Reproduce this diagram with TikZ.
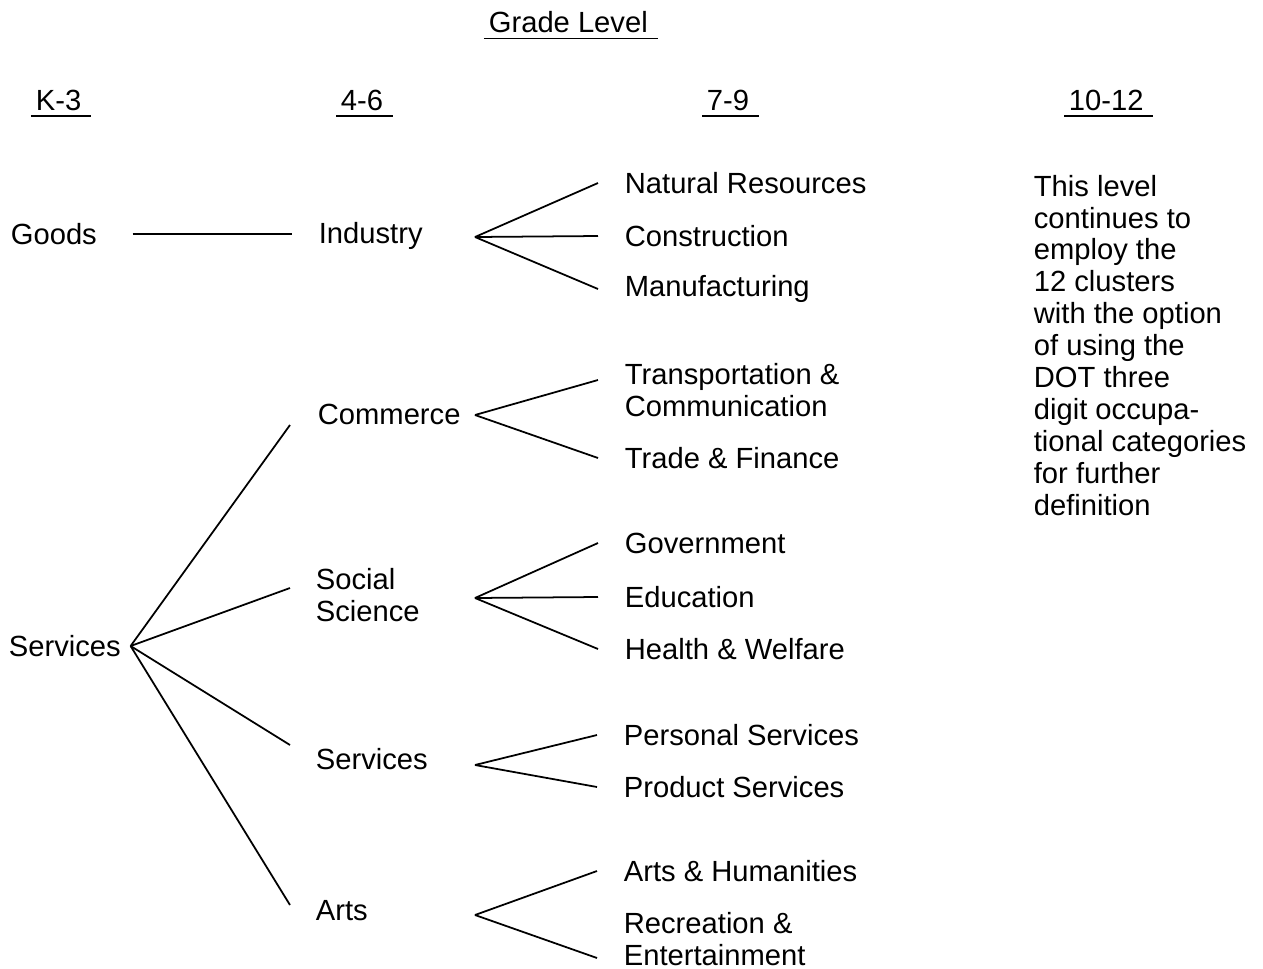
\documentclass[tikz,border=0pt]{standalone}
\usepackage{fontspec}
\setmainfont{Liberation Sans}
\begin{document}
\begin{tikzpicture}[font=\fontsize{8.3}{9.1}\selectfont, line width=0.5pt,
	lab/.style={anchor=west, inner sep=0pt},
	multi/.style={anchor=west, inner sep=0pt, align=left},
	head/.style={anchor=west, inner xsep=0.4mm, inner ysep=0.5mm}]
	\useasboundingbox (0,0) rectangle (12.63,-9.69);

	\node[head] (grade) at (4.84,-0.22) {Grade Level};
	\node[head] (k3) at (0.31,-1.0) {K-3};
	\node[head] (g46) at (3.36,-1.0) {4-6};
	\node[head] (g79) at (7.02,-1.0) {7-9};
	\node[head] (g1012) at (10.64,-1.0) {10-12};
	\foreach \h in {grade,k3,g46,g79,g1012}
		\draw (\h.south west) -- ([xshift=0.5mm]\h.south east);

	\node[lab] (goods) at (0.10,-2.34) {Goods};
	\node[lab] (svc) at (0.08,-6.46) {Services};

	\node[lab] (ind) at (3.18,-2.36) {Industry};
	\node[lab] (com) at (3.17,-4.14) {Commerce};
	\node[multi] (soc) at (3.15,-5.95) {Social\\Science};
	\node[lab] (svs) at (3.15,-7.59) {Services};
	\node[lab] (arts) at (3.15,-9.11) {Arts};

	\node[lab] (nat) at (6.24,-1.83) {Natural Resources};
	\node[lab] (con) at (6.24,-2.36) {Construction};
	\node[lab] (man) at (6.24,-2.89) {Manufacturing};
	\node[multi] (tra) at (6.24,-3.90) {Transportation \&\\Communication};
	\node[lab] (trd) at (6.24,-4.58) {Trade \& Finance};
	\node[lab] (gov) at (6.24,-5.43) {Government};
	\node[lab] (edu) at (6.24,-5.97) {Education};
	\node[lab] (hea) at (6.24,-6.49) {Health \& Welfare};
	\node[lab] (per) at (6.23,-7.35) {Personal Services};
	\node[lab] (pro) at (6.23,-7.87) {Product Services};
	\node[lab] (hum) at (6.23,-8.71) {Arts \& Humanities};
	\node[multi] (rec) at (6.23,-9.39) {Recreation \&\\Entertainment};

	\node[multi, anchor=north west] (note) at (10.33,-1.74) {This level\\continues to\\employ the\\12 clusters\\with the option\\of using the\\DOT three\\digit occupa-\\tional categories\\for further\\definition};

	\draw ([xshift=3.5mm]goods.east) -- ([xshift=-2.6mm]goods.east -| ind.west);

	\coordinate (svc-f) at ([xshift=0.9mm]svc.east);
	\draw (svc-f) -- ([xshift=-2.7mm,yshift=-1.1mm]com.west);
	\draw (svc-f) -- ([xshift=-2.5mm,yshift=0.7mm]soc.west);
	\draw (svc-f) -- ([xshift=-2.5mm,yshift=1.4mm]svs.west);
	\draw (svc-f) -- ([xshift=-2.5mm,yshift=0.6mm]arts.west);

	\coordinate (ind-f) at (4.75,-2.37);
	\coordinate (com-f) at (4.75,-4.15);
	\coordinate (soc-f) at (4.75,-5.98);
	\coordinate (svs-f) at (4.75,-7.65);
	\coordinate (arts-f) at (4.75,-9.15);
	\foreach \p/\c in {ind/nat,ind/con,ind/man,com/trd,soc/gov,soc/edu,soc/hea,svs/per,svs/pro,arts/hum}
		\draw (\p-f) -- ([xshift=-2.6mm]\c.west);
	\draw (com-f) -- ([xshift=-2.6mm,yshift=1mm]tra.west);
	\draw (arts-f) -- ([xshift=-2.6mm,yshift=-1.9mm]rec.west);
\end{tikzpicture}
\end{document}
